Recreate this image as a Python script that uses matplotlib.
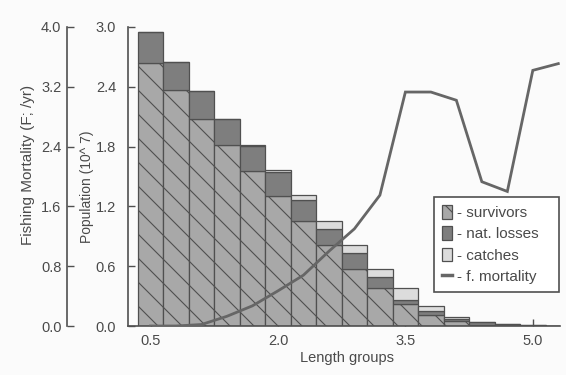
import matplotlib
matplotlib.use("Agg")
import matplotlib.pyplot as plt
import numpy as np
from matplotlib.patches import Patch
from matplotlib.lines import Line2D

DPI = 72
K = 100 / DPI  # point scale so sizes match a 100-dpi layout

plt.rcParams['font.family'] = ['Liberation Sans', 'DejaVu Sans']
plt.rcParams['hatch.linewidth'] = 0.8 * K

# ---- data ----
length_groups = [0.5, 0.8, 1.1, 1.4, 1.7, 2.0, 2.3, 2.6, 2.9, 3.2, 3.5, 3.8, 4.1, 4.4, 4.7, 5.0, 5.3]
survivors  = [2.64, 2.37, 2.08, 1.82, 1.56, 1.30, 1.05, 0.81, 0.57, 0.38, 0.22, 0.11, 0.05, 0.01, 0.005, 0.0, 0.0]
nat_losses = [0.31, 0.28, 0.28, 0.26, 0.25, 0.25, 0.21, 0.16, 0.16, 0.11, 0.04, 0.04, 0.023, 0.03, 0.015, 0.006, 0.0]
catches    = [0.0, 0.0, 0.0, 0.0, 0.01, 0.02, 0.05, 0.08, 0.08, 0.08, 0.12, 0.05, 0.02, 0.005, 0.005, 0.002, 0.0]
f_mortality = [0.0, 0.0, 0.02, 0.13, 0.27, 0.47, 0.68, 1.00, 1.30, 1.75, 3.13, 3.13, 3.02, 1.93, 1.80, 3.42, 3.51]

x_ticks = [0.5, 2.0, 3.5, 5.0]
pop_ticks = [0.0, 0.6, 1.2, 1.8, 2.4, 3.0]
f_ticks = [0.0, 0.8, 1.6, 2.4, 3.2, 4.0]

# ---- style ----
txt = '#4a4a4a'
edge = '#505050'
c_surv = '#a8a8a8'
c_nat = '#7e7e7e'
c_catch = '#dcdcdc'
c_line = '#666666'
fs_tick = 10.5 * K

fig = plt.figure(figsize=(566 / DPI, 375 / DPI), dpi=DPI, facecolor='#fbfbfb')
ax = fig.add_axes([128/566, 1-326/375, (560-128)/566, (326-27)/375])
ax.set_facecolor('none')

x = np.array(length_groups)
s = np.array(survivors)
n = np.array(nat_losses)
c = np.array(catches)
w = 0.3
lw = 0.9 * K
ax.bar(x, s, width=w, color=c_surv, edgecolor=edge, linewidth=lw, hatch='\\', zorder=2)
ax.bar(x, n, width=w, bottom=s, color=c_nat, edgecolor=edge, linewidth=lw, zorder=2)
ax.bar(x, c, width=w, bottom=s + n, color=c_catch, edgecolor=edge, linewidth=lw, zorder=2)

ax.set_xlim(0.235, 5.32)
ax.set_ylim(0, 3.0)
ax.set_xticks(x_ticks)
ax.set_xticklabels([f'{v:.1f}' for v in x_ticks])
ax.set_yticks(pop_ticks)
ax.set_yticklabels([f'{v:.1f}' for v in pop_ticks])
for sp in ['top', 'right']:
    ax.spines[sp].set_visible(False)
for sp in ['left', 'bottom']:
    ax.spines[sp].set_color(edge)
    ax.spines[sp].set_linewidth(1.2 * K)
ax.tick_params(axis='both', direction='in', length=5 * K, width=1 * K, color=edge,
               labelcolor=txt, labelsize=fs_tick)
ax.tick_params(axis='y', pad=8.5 * K)
ax.tick_params(axis='x', pad=6 * K)
ax.set_ylabel('Population (10^ 7)', color=txt, fontsize=10 * K)
ax.yaxis.set_label_coords((94-128)/432, (326-187)/299)
ax.set_xlabel('Length groups', color=txt, fontsize=10.5 * K, va='center')
ax.xaxis.set_label_coords((347-128)/432, (326-358)/299)

# secondary axis: fishing mortality
ax2 = ax.twinx()
ax2.set_ylim(0, 4.0)
ax2.plot(x, f_mortality, color=c_line, linewidth=2.0 * K, zorder=3, solid_joinstyle='miter')
ax2.spines['right'].set_visible(False)
ax2.spines['top'].set_visible(False)
ax2.spines['bottom'].set_visible(False)
ax2.spines['left'].set_visible(True)
ax2.spines['left'].set_position(('axes', (67-128)/432))
ax2.spines['left'].set_color(edge)
ax2.spines['left'].set_linewidth(1.2 * K)
ax2.yaxis.set_ticks_position('left')
ax2.yaxis.set_label_position('left')
ax2.set_yticks(f_ticks)
ax2.set_yticklabels([f'{v:.1f}' for v in f_ticks])
ax2.tick_params(axis='y', direction='in', length=5 * K, width=1 * K, color=edge,
                labelcolor=txt, labelsize=fs_tick, pad=4 * K)
ax2.set_ylabel('Fishing Mortality (F; /yr)', color=txt, fontsize=11 * K)
ax2.yaxis.set_label_coords((35-128)/432, (326-165)/299)

handles = [
    Patch(facecolor=c_surv, edgecolor=edge, hatch='\\', linewidth=lw, label='- survivors'),
    Patch(facecolor=c_nat, edgecolor=edge, linewidth=lw, label='- nat. losses'),
    Patch(facecolor=c_catch, edgecolor=edge, linewidth=lw, label='- catches'),
    Line2D([0], [0], color=c_line, linewidth=2.5 * K, label='- f. mortality'),
]
leg = ax2.legend(handles=handles, loc='lower left',
                 bbox_to_anchor=((434-128)/432, (326-292)/299, (559-434)/432, (292-196)/299),
                 mode='expand', borderaxespad=0, fontsize=11 * K, frameon=True, fancybox=False,
                 handlelength=0.7, handleheight=1.0, handletextpad=0.3,
                 labelspacing=0.42, borderpad=0.5, labelcolor=txt)
leg.get_frame().set_edgecolor(edge)
leg.get_frame().set_linewidth(1.2 * K)
leg.get_frame().set_facecolor('white')
leg.get_frame().set_alpha(1)
leg.set_zorder(10)

fig.savefig('out.png', dpi=DPI, facecolor=fig.get_facecolor())
